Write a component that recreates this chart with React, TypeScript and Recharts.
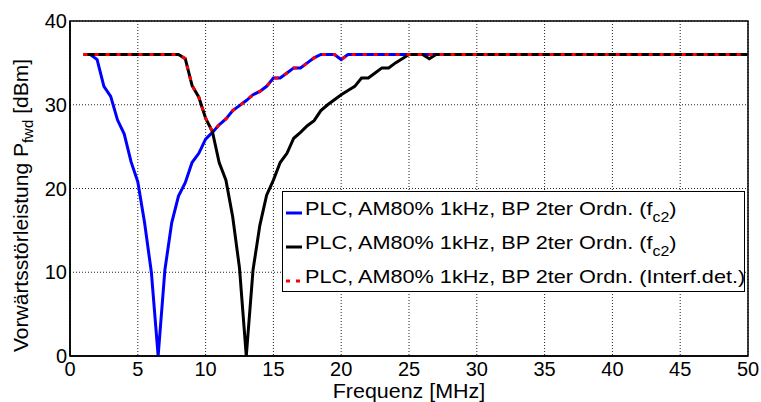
import { LineChart, Line, XAxis, YAxis, CartesianGrid, Legend, ReferenceArea } from "recharts";

const freqTicks = [0, 5, 10, 15, 20, 25, 30, 35, 40, 45, 50];
const levelTicks = [0, 10, 20, 30, 40];

// blau: BP 2ter Ordn. (fc2), Kerbe bei ca. 6.5 MHz
const blueFreq = [1, 1.5, 2, 2.5, 3, 3.5, 4, 4.5, 5, 5.5, 6, 6.5, 7, 7.5, 8, 8.5, 9, 9.5, 10, 10.5, 11, 11.5, 12, 12.5, 13, 13.5, 14, 14.5, 15, 15.5, 16, 16.5, 17, 17.5, 18, 18.5, 19, 19.5, 20, 20.5, 50];
const blueLevel = [36, 36, 35.4, 32.2, 31, 28.2, 26.5, 23.2, 20.8, 15.9, 10, 0, 10.3, 15.9, 19.1, 20.7, 23.1, 24.2, 25.9, 26.7, 27.6, 28.3, 29.3, 29.9, 30.5, 31.2, 31.6, 32.2, 33.2, 33.2, 33.8, 34.4, 34.4, 35, 35.6, 36, 36, 36, 35.4, 36, 36];

// schwarz: BP 2ter Ordn. (fc2), Kerbe bei ca. 13 MHz
const blackFreq = [1, 8, 8.5, 9, 9.5, 10, 10.5, 11, 11.5, 12, 12.5, 13, 13.5, 14, 14.5, 15, 15.5, 16, 16.5, 17, 17.5, 18, 18.5, 19, 19.5, 20, 20.5, 21, 21.5, 22, 22.5, 23, 23.5, 24, 24.5, 25, 26, 26.5, 27, 50];
const blackLevel = [36, 36, 35.5, 32.3, 30.9, 28.4, 26.8, 23.1, 21, 16.6, 10.5, 0, 10.3, 15.6, 19.2, 21, 23.1, 24.2, 26, 26.7, 27.5, 28.1, 29.3, 30, 30.6, 31.2, 31.7, 32.2, 33.2, 33.2, 33.8, 34.4, 34.4, 35, 35.5, 36, 36, 35.5, 36, 36];

// rot gepunktet: Interf.det.
const redFreq = [1, 8, 8.5, 9, 9.5, 10, 10.5, 11, 11.5, 12, 12.5, 13, 13.5, 14, 14.5, 15, 15.5, 16, 16.5, 17, 17.5, 18, 18.5, 19, 19.5, 20, 20.5, 50];
const redLevel = [36, 36, 35.5, 32.3, 30.9, 28.4, 26.8, 27.6, 28.3, 29.3, 29.9, 30.5, 31.2, 31.6, 32.2, 33.2, 33.2, 33.8, 34.4, 34.4, 35, 35.6, 36, 36, 36, 35.4, 36, 36];

const legendMain = [
  "PLC, AM80% 1kHz, BP 2ter Ordn. (f",
  "PLC, AM80% 1kHz, BP 2ter Ordn. (f",
  "PLC, AM80% 1kHz, BP 2ter Ordn. (Interf.det.)",
];
const legendSub = ["c2", "c2", ""];
const legendEnd = [")", ")", ""];

const toPoints = (f: number[], v: number[]) => f.map((x, i) => ({ f: x, v: v[i] }));

const font = "'Liberation Sans', Arial, sans-serif";

const legendColors = ["#0000ff", "#000000", "#ff0000"];

function LegendBox() {
  return (
    <div
      style={{
        width: 463,
        height: 101,
        border: "1.5px solid #000",
        background: "#fff",
        fontFamily: font,
        fontSize: 19,
        color: "#000",
        boxSizing: "border-box",
      }}
    >
      {legendMain.map((t, i) => (
        <div key={i} style={{ height: 34, lineHeight: "34px", whiteSpace: "nowrap", position: "relative" }}>
          <svg width={18} height={34} style={{ position: "absolute", left: 2, top: 0 }}>
            <line
              x1={1}
              x2={17}
              y1={21}
              y2={21}
              stroke={legendColors[i]}
              strokeWidth={3}
              strokeDasharray={i === 2 ? "4 6" : undefined}
            />
          </svg>
          <span
            style={{
              position: "absolute",
              left: 22,
              display: "inline-block",
              transform: "scaleX(1.14)",
              transformOrigin: "left center",
            }}
          >
            {t}
            {legendSub[i] && <sub style={{ fontSize: 14, verticalAlign: "-7px" }}>{legendSub[i]}</sub>}
            {legendEnd[i]}
          </span>
        </div>
      ))}
    </div>
  );
}

function YLabel(props: any) {
  const vb = props.viewBox || { x: 0, y: 21, width: 70, height: 335 };
  const cx = vb.x + 28;
  const cy = vb.y + vb.height / 2 + 17;
  return (
    <text
      x={cx}
      y={cy}
      transform={`rotate(-90 ${cx} ${cy})`}
      textAnchor="middle"
      fontFamily={font}
      fontSize={21}
      fill="#000"
    >
      <tspan>Vorwärtsstörleistung P</tspan>
      <tspan fontSize={15} dy={5}>fwd</tspan>
      <tspan dy={-5}> [dBm]</tspan>
    </text>
  );
}

function XLabel(props: any) {
  const vb = props.viewBox || { x: 70, y: 356, width: 678, height: 46 };
  const cx = vb.x + vb.width / 2;
  return (
    <text
      x={cx}
      y={vb.y + 42}
      textAnchor="middle"
      fontFamily={font}
      fontSize={19.5}
      fill="#000"
      transform={`translate(${cx} 0) scale(1.1 1) translate(${-cx} 0)`}
    >
      Frequenz [MHz]
    </text>
  );
}

export default function App() {
  const tickStyle = { fontFamily: font, fontSize: 20, fill: "#000" };
  return (
    <div style={{ position: "absolute", left: 0, top: 0, width: 761, height: 402, background: "#fff" }}>
      <LineChart width={761} height={402} margin={{ top: 21, right: 13, bottom: 0, left: 0 }}>
        <CartesianGrid stroke="#222" strokeDasharray="1 2" />
        <XAxis
          type="number"
          dataKey="f"
          domain={[0, 50]}
          ticks={freqTicks}
          allowDataOverflow
          height={46}
          tickLine={false}
          tickSize={0}
          tickMargin={6}
          axisLine={{ stroke: "#000", strokeWidth: 1.5 }}
          tick={tickStyle}
          label={<XLabel />}
        />
        <YAxis
          type="number"
          domain={[0, 40]}
          ticks={levelTicks}
          allowDataOverflow
          width={70}
          tickLine={false}
          tickSize={0}
          tickMargin={3}
          axisLine={{ stroke: "#000", strokeWidth: 1.5 }}
          tick={tickStyle}
          label={<YLabel />}
        />
        <ReferenceArea x1={0} x2={50} y1={0} y2={40} fill="none" stroke="#000" strokeWidth={1.5} ifOverflow="visible" />
        <Line data={toPoints(blueFreq, blueLevel)} dataKey="v" type="linear" stroke="#0000ff" strokeWidth={3} dot={false} isAnimationActive={false} />
        <Line data={toPoints(blackFreq, blackLevel)} dataKey="v" type="linear" stroke="#000000" strokeWidth={3} dot={false} isAnimationActive={false} />
        <Line data={toPoints(redFreq, redLevel)} dataKey="v" type="linear" stroke="#ff0000" strokeWidth={3} strokeDasharray="4 7" dot={false} isAnimationActive={false} />
        <Legend
          layout="vertical"
          align="center"
          verticalAlign="middle"
          content={() => <LegendBox />}
          wrapperStyle={{ left: 282, top: 191, width: 463, height: 101 }}
        />
      </LineChart>
    </div>
  );
}
